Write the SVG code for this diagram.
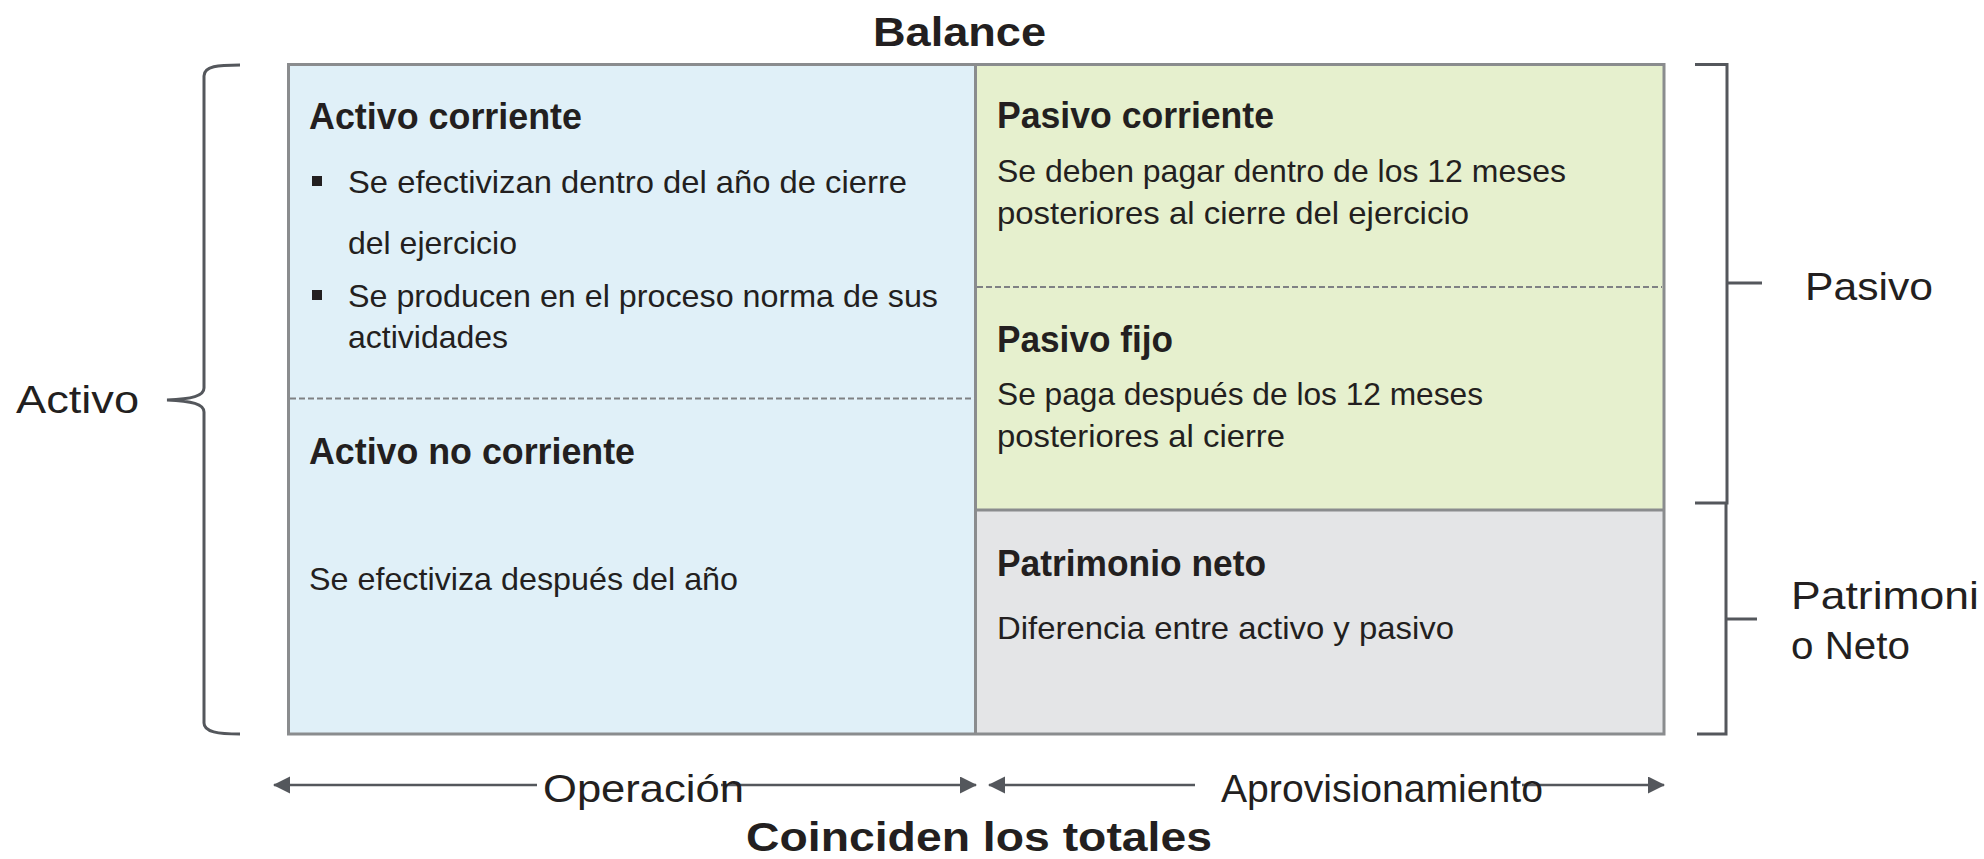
<svg xmlns="http://www.w3.org/2000/svg" width="1984" height="859" viewBox="0 0 1984 859">
  <style>
    .cellborder { stroke: #8a8c8e; stroke-width: 3; }
    .dash { stroke: #7f8184; stroke-width: 2; stroke-dasharray: 6 3; fill: none; }
    .brk { stroke: #54575c; stroke-width: 3; fill: none; }
    .conn { stroke: #54575c; stroke-width: 2.5; fill: none; }
    .title { font-family: "Liberation Sans", Arial, sans-serif; font-weight: bold; font-size: 40px; fill: #231f20; }
    .head { font-family: "Liberation Sans", Arial, sans-serif; font-weight: bold; font-size: 36px; fill: #231f20; }
    .body { font-family: "Liberation Sans", Arial, sans-serif; font-size: 32px; fill: #231f20; }
    .side { font-family: "Liberation Sans", Arial, sans-serif; font-size: 39px; fill: #231f20; }
  </style>
  <defs>
    <marker id="arrow" markerUnits="userSpaceOnUse" markerWidth="18" markerHeight="18" refX="16" refY="8.5" orient="auto">
      <path d="M0,0 L17,8.5 L0,17 z" fill="#54575c"/>
    </marker>
  </defs>
  <rect width="1984" height="859" fill="#ffffff"/>

  <text class="title" x="873" y="46" textLength="173" lengthAdjust="spacingAndGlyphs">Balance</text>

  <g id="activo-corriente">
    <rect x="288.5" y="64.5" width="687" height="334" fill="#e0f0f8"/>
    <text class="head" x="309" y="129" textLength="273" lengthAdjust="spacingAndGlyphs">Activo corriente</text>
    <rect x="312" y="176" width="10" height="10" fill="#231f20"/>
    <text class="body" x="348" y="193" textLength="559" lengthAdjust="spacingAndGlyphs">Se efectivizan dentro del año de cierre</text>
    <text class="body" x="348" y="254">del ejercicio</text>
    <rect x="312" y="290" width="10" height="10" fill="#231f20"/>
    <text class="body" x="348" y="307" textLength="590" lengthAdjust="spacingAndGlyphs">Se producen en el proceso norma de sus</text>
    <text class="body" x="348" y="348">actividades</text>
  </g>

  <g id="activo-no-corriente">
    <rect x="288.5" y="398.5" width="687" height="335.5" fill="#e0f0f8"/>
    <text class="head" x="309" y="464" textLength="326" lengthAdjust="spacingAndGlyphs">Activo no corriente</text>
    <text class="body" x="309" y="590" textLength="429" lengthAdjust="spacingAndGlyphs">Se efectiviza después del año</text>
  </g>

  <g id="pasivo-corriente">
    <rect x="975.5" y="64.5" width="688.5" height="222.5" fill="#e6f0ce"/>
    <text class="head" x="997" y="128" textLength="277" lengthAdjust="spacingAndGlyphs">Pasivo corriente</text>
    <text class="body" x="997" y="182" textLength="569" lengthAdjust="spacingAndGlyphs">Se deben pagar dentro de los 12 meses</text>
    <text class="body" x="997" y="224" textLength="472" lengthAdjust="spacingAndGlyphs">posteriores al cierre del ejercicio</text>
  </g>

  <g id="pasivo-fijo">
    <rect x="975.5" y="287" width="688.5" height="223" fill="#e6f0ce"/>
    <text class="head" x="997" y="352" textLength="176" lengthAdjust="spacingAndGlyphs">Pasivo fijo</text>
    <text class="body" x="997" y="405" textLength="486" lengthAdjust="spacingAndGlyphs">Se paga después de los 12 meses</text>
    <text class="body" x="997" y="447" textLength="288" lengthAdjust="spacingAndGlyphs">posteriores al cierre</text>
  </g>

  <g id="patrimonio-neto">
    <rect x="975.5" y="510" width="688.5" height="224" fill="#e4e5e7"/>
    <text class="head" x="997" y="576" textLength="269" lengthAdjust="spacingAndGlyphs">Patrimonio neto</text>
    <text class="body" x="997" y="639" textLength="457" lengthAdjust="spacingAndGlyphs">Diferencia entre activo y pasivo</text>
  </g>

  <g id="grid-lines">
    <line class="dash" x1="290" y1="398.5" x2="974" y2="398.5"/>
    <line class="dash" x1="977" y1="287" x2="1662" y2="287"/>
    <line class="cellborder" x1="975.5" y1="510" x2="1664" y2="510"/>
    <line class="cellborder" x1="975.5" y1="64.5" x2="975.5" y2="734"/>
    <rect class="cellborder" x="288.5" y="64.5" width="1375.5" height="669.5" fill="none"/>
  </g>

  <g id="activo-bracket">
    <path class="brk" d="M240,65 C218,65 204,66 204,76 L204,388 C204,396 192,399 167,400 C192,401 204,404 204,412 L204,723 C204,732 218,734 240,734"/>
    <text class="side" x="16" y="413" textLength="123" lengthAdjust="spacingAndGlyphs">Activo</text>
  </g>

  <g id="pasivo-bracket">
    <path class="brk" d="M1695,64.5 H1727 V503 H1695"/>
    <path class="brk" d="M1727,283 H1762"/>
    <text class="side" x="1805" y="300" textLength="128" lengthAdjust="spacingAndGlyphs">Pasivo</text>
  </g>

  <g id="patrimonio-bracket">
    <path class="brk" d="M1726,503 V734 H1697"/>
    <path class="brk" d="M1726,619 H1757"/>
    <text class="side" x="1791" y="609" textLength="188" lengthAdjust="spacingAndGlyphs">Patrimoni</text>
    <text class="side" x="1791" y="659" textLength="119" lengthAdjust="spacingAndGlyphs">o Neto</text>
  </g>

  <g id="connectors">
    <path class="conn" d="M537,785 H274" marker-end="url(#arrow)"/>
    <path class="conn" d="M721,785 H976" marker-end="url(#arrow)"/>
    <path class="conn" d="M1195,785 H989" marker-end="url(#arrow)"/>
    <path class="conn" d="M1522,785 H1664" marker-end="url(#arrow)"/>
  </g>

  <g id="bottom-labels">
    <text class="side" x="543" y="802" textLength="201" lengthAdjust="spacingAndGlyphs">Operación</text>
    <text class="side" x="1221" y="802" textLength="322" lengthAdjust="spacingAndGlyphs">Aprovisionamiento</text>
    <text class="title" x="746" y="851" textLength="466" lengthAdjust="spacingAndGlyphs">Coinciden los totales</text>
  </g>
</svg>
